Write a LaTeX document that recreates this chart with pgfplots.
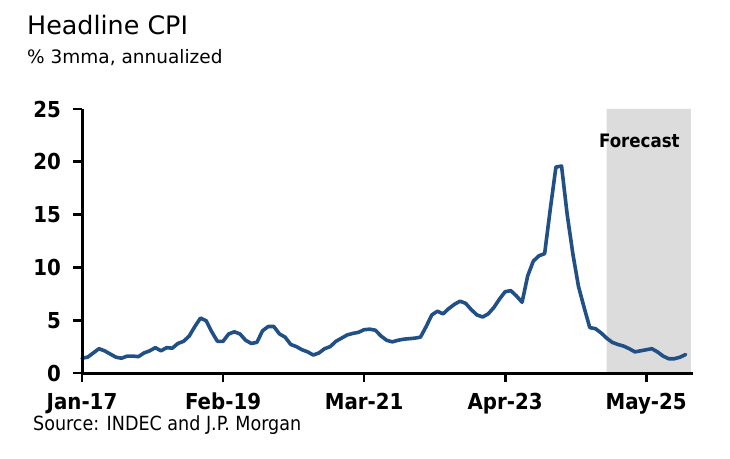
\documentclass[border=0pt]{standalone}
\usepackage{fontspec}
\setmainfont{DejaVu Sans}
\newfontfamily\condfont{DejaVu Sans Condensed}
\usepackage{pgfplots}
\pgfplotsset{compat=1.18}
\definecolor{cpiblue}{RGB}{33,80,135}
\definecolor{fcgray}{RGB}{220,220,220}

% month index: 0 = Jan-17
\pgfplotstableread{
m v
0 1.4
1 1.5
2 1.9
3 2.3
4 2.1
5 1.8
6 1.5
7 1.4
8 1.6
9 1.6
10 1.55
11 1.9
12 2.1
13 2.4
14 2.1
15 2.4
16 2.35
17 2.8
18 3.0
19 3.5
20 4.4
21 5.2
22 4.95
23 3.9
24 3.0
25 3.0
26 3.7
27 3.9
28 3.7
29 3.1
30 2.8
31 2.9
32 4.0
33 4.4
34 4.4
35 3.7
36 3.4
37 2.7
38 2.5
39 2.2
40 2.0
41 1.7
42 1.9
43 2.3
44 2.5
45 3.0
46 3.3
47 3.6
48 3.75
49 3.85
50 4.1
51 4.15
52 4.05
53 3.5
54 3.1
55 2.95
56 3.1
57 3.2
58 3.25
59 3.3
60 3.4
61 4.4
62 5.5
63 5.85
64 5.6
65 6.1
66 6.5
67 6.8
68 6.6
69 6.0
70 5.5
71 5.3
72 5.6
73 6.2
74 7.0
75 7.7
76 7.8
77 7.3
78 6.7
79 9.2
80 10.6
81 11.1
82 11.3
83 15.5
84 19.5
85 19.6
86 15.0
87 11.3
88 8.2
89 6.2
90 4.3
91 4.2
92 3.8
93 3.3
94 2.9
95 2.7
96 2.55
97 2.3
98 2.0
99 2.1
100 2.2
101 2.3
102 2.0
103 1.6
104 1.35
105 1.35
106 1.5
107 1.75
}\cpi

\begin{document}
\begin{tikzpicture}
\path[use as bounding box] (-82pt,-85pt) rectangle (648pt,373pt);
\begin{axis}[
  at={(0pt,0pt)}, anchor=south west,
  scale only axis, width=611pt, height=264pt,
  xmin=0, xmax=108.3, ymin=0, ymax=25,
  axis line style={draw=none},
  xtick={0,25,50,75,100},
  xticklabels={Jan-17,Feb-19,Mar-21,Apr-23,May-25},
  ytick={0,5,10,15,20,25},
  xtick pos=bottom, ytick pos=left,
  major tick length=0pt,
  ticklabel style={font=\condfont\bfseries\fontsize{22}{22}\selectfont, inner sep=0pt},
  xticklabel style={anchor=north, yshift=-20pt},
  yticklabel style={anchor=east, xshift=-21pt},
  /pgf/number format/assume math mode=true,
  clip=false,
]
\addplot[draw=none, fill=fcgray] coordinates {(93,0) (93,25) (107.9,25) (107.9,0)} \closedcycle;
\addplot[cpiblue, line width=3.6pt, line join=round, line cap=round] table[x=m, y=v] {\cpi};
% axis lines and outward ticks
\draw[black, line width=3pt] (rel axis cs:0,1) -- (rel axis cs:0,0) -- (rel axis cs:1,0);
\pgfplotsinvokeforeach{0,25,50,75,100}{\draw[black, line width=2.8pt] (axis cs:#1,0) -- ++(0pt,-9pt);}
\pgfplotsinvokeforeach{0,5,10,15,20,25}{\draw[black, line width=2.8pt] (axis cs:0,#1) -- ++(-9pt,0pt);}
\node[font=\condfont\bfseries\fontsize{18.5}{19}\selectfont] at (axis cs:98.8,22) {Forecast};
\end{axis}
\node[anchor=base west, inner sep=0, font=\fontsize{25.4}{26}\selectfont] at (-55pt,338pt) {Headline CPI};
\node[anchor=base west, inner sep=0, font=\fontsize{18.5}{19}\selectfont] at (-55pt,309pt) {\% 3mma, annualized};
\node[anchor=base west, inner sep=0, font=\condfont\fontsize{19.5}{20}\selectfont] at (-49pt,-57pt) {Source: INDEC and J.P. Morgan};
\end{tikzpicture}
\end{document}
